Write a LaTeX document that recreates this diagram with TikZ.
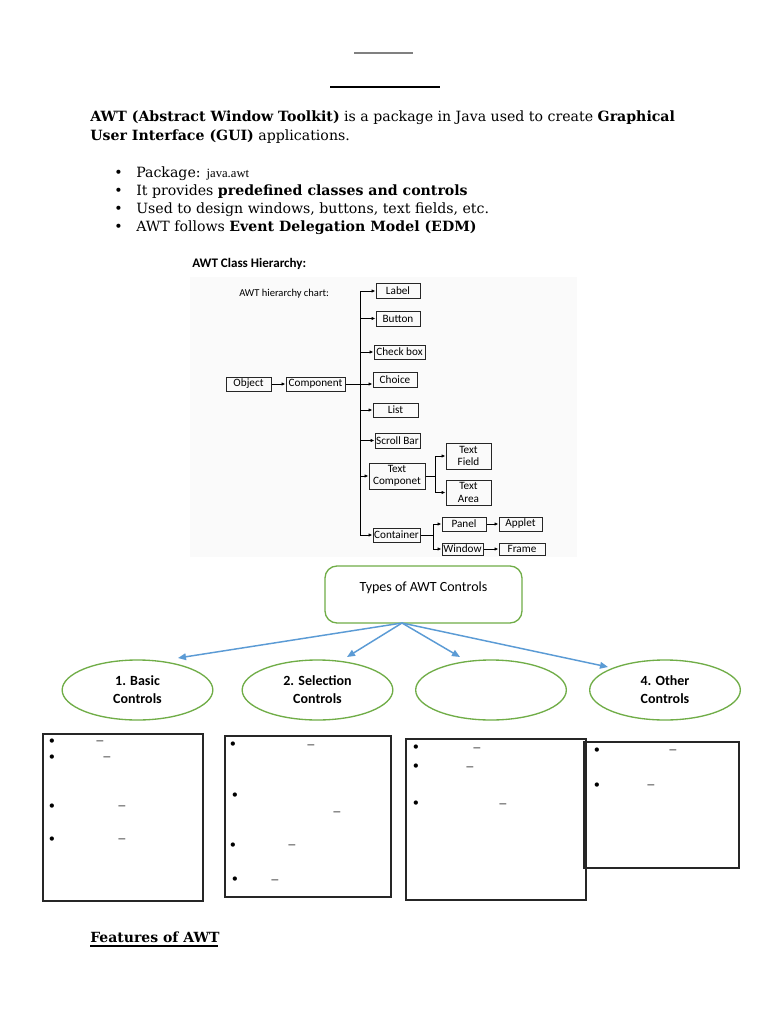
\documentclass[tikz,border=0pt]{standalone}
\usepackage{fontspec}
\setmainfont{DejaVu Serif}
\newfontfamily\chartfont{Carlito}
\newfontfamily\timesf{Liberation Serif}
\newfontfamily\symf{DejaVu Sans}
\usetikzlibrary{arrows.meta,shapes.geometric}
\definecolor{ogreen}{HTML}{70AD47}
\definecolor{oblue}{HTML}{5B9BD5}
\begin{document}
\begin{tikzpicture}[x=0.75pt,y=-0.75pt,
  body/.style={anchor=base west, inner sep=0pt, font=\fontsize{10.6}{12}\selectfont},
  cbox/.style={draw=black!85, line width=0.75pt, inner sep=0pt, align=center, font=\chartfont\fontsize{8.4}{9.2}\selectfont},
  arr/.style={-{Latex[length=3pt,width=2.6pt]}, line width=0.6pt},
  ln/.style={line width=0.6pt},
  greenbox/.style={draw=ogreen, line width=1pt, rounded corners=9pt, inner sep=0pt},
  greenell/.style={draw=ogreen, ellipse, line width=1pt, inner sep=0pt, align=center, font=\chartfont\bfseries\fontsize{10.5}{13.5}\selectfont},
  barr/.style={draw=oblue, line width=1.1pt, -{Triangle[length=6pt,width=5pt]}},
  obox/.style={draw=black!85, line width=0.8pt, inner sep=0pt},
  bul/.style={inner sep=0pt, font=\symf\fontsize{11}{11}\selectfont},
  dsh/.style={inner sep=0pt, font=\timesf\fontsize{10}{10}\selectfont}]
\useasboundingbox (0,0) rectangle (768,1024);
\fill[white] (0,0) rectangle (768,1024);
% top rules
\draw[gray, line width=0.8pt] (354,53) -- (413,53);
\draw[black, line width=1.6pt] (330,87) -- (440,87);
% paragraph
\node[body] (p1) at (90,122) {\textbf{AWT (Abstract Window Toolkit)} is a package in Java used to create \textbf{Graphical}};
\node[body] (p2) at (90,140) {\textbf{User Interface (GUI)} applications.};
\foreach \y/\n in {177/b1,195/b2,213/b3,231/b4}{\node[body] (\n) at (114,\y) {\textbullet};}
\node[body] (t1) at (136,177) {Package: {\timesf\fontsize{9.5}{10}\selectfont java.awt}};
\node[body] (t2) at (136,195) {It provides \textbf{predefined classes and controls}};
\node[body] (t3) at (136,213) {Used to design windows, buttons, text fields, etc.};
\node[body] (t4) at (136,231) {AWT follows \textbf{Event Delegation Model (EDM)}};
% chart
\fill[black!2] (190,277) rectangle (577,557);
\node[anchor=base west, inner sep=0pt, font=\chartfont\bfseries\fontsize{9.8}{11}\selectfont] (title) at (192,267) {AWT Class Hierarchy:};
\node[anchor=base west, inner sep=0pt, font=\chartfont\fontsize{7.9}{9}\selectfont] (sub) at (239,296) {AWT hierarchy chart:};
\node[cbox, minimum width=33.75pt, minimum height=10.5pt] (obj) at (248.5,384) {Object};
\node[cbox, minimum width=44.25pt, minimum height=10.5pt] (comp) at (315.5,384) {Component};
\node[cbox, minimum width=33pt, minimum height=11.25pt] (label) at (398,291) {Label};
\node[cbox, minimum width=33pt, minimum height=11.25pt] (button) at (398,318.5) {Button};
\node[cbox, minimum width=38.25pt, minimum height=10.5pt] (check) at (399.5,352) {Check box};
\node[cbox, minimum width=33pt, minimum height=11.25pt] (choice) at (395,379.5) {Choice};
\node[cbox, minimum width=33.75pt, minimum height=10.5pt] (list) at (395.5,410) {List};
\node[cbox, minimum width=33.75pt, minimum height=11.25pt] (scroll) at (397.5,440.5) {Scroll Bar};
\node[cbox, minimum width=42pt, minimum height=19.5pt] (textc) at (397,476) {Text\\Componet};
\node[cbox, minimum width=33.75pt, minimum height=19.5pt] (tfield) at (468.5,456) {Text\\Field};
\node[cbox, minimum width=33.75pt, minimum height=18.75pt] (tarea) at (468.5,492.5) {Text\\Area};
\node[cbox, minimum width=35.25pt, minimum height=10.5pt] (cont) at (396.5,535) {Container};
\node[cbox, minimum width=33pt, minimum height=10.5pt] (panel) at (464,524) {Panel};
\node[cbox, minimum width=30.75pt, minimum height=9pt] (window) at (462.5,549) {Window};
\node[cbox, minimum width=32.25pt, minimum height=10.5pt] (applet) at (520.5,524) {Applet};
\node[cbox, minimum width=34.5pt, minimum height=9pt] (frame) at (522,549) {Frame};
\coordinate (trtop) at (360,291);
\coordinate (trbot) at (360,535);
\draw[ln] (trtop) -- (trbot);
\draw[arr] (obj) -- (comp);
\draw[arr] (comp.east) -- (choice.west |- comp.east);
\foreach \n in {label,button,check,list,scroll,textc,cont}{\draw[arr] (\n.west -| trtop) -- (\n.west);}
\coordinate (ttr) at (435,476);
\draw[ln] (textc.east) -- (ttr);
\draw[ln] (tfield.west -| ttr) -- (tarea.west -| ttr);
\draw[arr] (tfield.west -| ttr) -- (tfield.west);
\draw[arr] (tarea.west -| ttr) -- (tarea.west);
\coordinate (ctr) at (433,535);
\draw[ln] (cont.east) -- (ctr);
\draw[ln] (panel.west -| ctr) -- (window.west -| ctr);
\draw[arr] (panel.west -| ctr) -- (panel.west);
\draw[arr] (window.west -| ctr) -- (window.west);
\draw[arr] (panel) -- (applet);
\draw[arr] (window) -- (frame);
% types of controls
\draw[greenbox] (325,566) rectangle (522,623);
\node[inner sep=0pt, font=\chartfont\fontsize{10.5}{12}\selectfont] (types) at (423.5,588) {Types of AWT Controls};
\node[greenell, minimum width=113pt, minimum height=45pt] (e1) at (137.5,690) {1. Basic\\Controls};
\node[greenell, minimum width=113pt, minimum height=45pt] (e2) at (317.5,690) {2. Selection\\Controls};
\node[greenell, minimum width=113pt, minimum height=45pt] (e3) at (491,690) {};
\node[greenell, minimum width=113pt, minimum height=45pt] (e4) at (665,690) {4. Other\\Controls};
\coordinate (tsrc) at (402,623);
\coordinate (a1) at (178,658);
\coordinate (a2) at (347,657);
\coordinate (a3) at (460,657);
\coordinate (a4) at (608,667);
\foreach \a in {a1,a2,a3,a4}{\draw[barr] (tsrc) -- (\a);}
% bottom boxes
\draw[obox] (43,734) rectangle (203,901);
\draw[obox] (225,736) rectangle (391,897);
\draw[obox] (406,739) rectangle (586,900);
\draw[obox] (584,742) rectangle (739,868);
\foreach \x/\y [count=\i] in {52/743,52/759,52/808,52/841,233/746,235/797,233/847,235/881,416/749,416/768,416/805,597/752,597/787}{\node[bul] (bu\i) at (\x,\y) {•};}
\foreach \x/\y [count=\i] in {100/743,107/759,122/808,122/841,311/747,337/814,292/847,275/882,477/750,470/769,503/806,673/752,651/787}{\node[dsh] (da\i) at (\x,\y) {–};}
% features
\node[body, font=\bfseries\fontsize{10.5}{12}\selectfont] (feat) at (90,942) {Features of AWT};
\draw[line width=1.1pt] (90,946) -- (218,946);
\end{tikzpicture}
\end{document}
